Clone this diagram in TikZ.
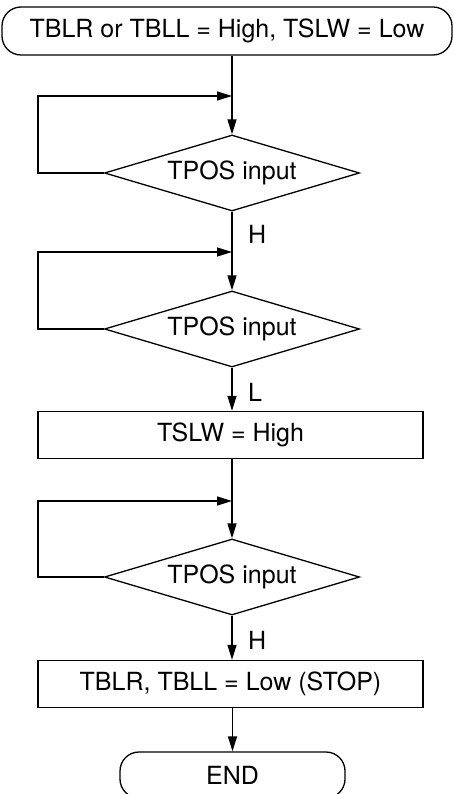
\documentclass[tikz,border=0pt]{standalone}
\usepackage{fontspec}
\setmainfont{TeX Gyre Heros}
\usetikzlibrary{shapes.geometric,arrows.meta}
\begin{document}
\begin{tikzpicture}[x=1pt,y=-1pt,
  every node/.style={font=\fontsize{25}{28}\selectfont, inner sep=0pt},
  term/.style={draw, line width=1.3pt, rounded corners=19pt, minimum height=48pt},
  proc/.style={draw, line width=1.3pt, minimum height=47pt, minimum width=385pt},
  dec/.style={draw, line width=1.3pt, diamond, aspect=3.35, minimum width=255pt, minimum height=76pt, inner sep=0pt},
  flow/.style={line width=1.3pt, -{Triangle[length=15pt,width=9pt]}},
  lbl/.style={anchor=west}]
\useasboundingbox (0,0) rectangle (454,794);
\node[term, minimum width=450pt] (t1) at (227,31) {TBLR or TBLL = High, TSLW = Low};
\node[dec] (d1) at (232,173) {TPOS input};
\node[dec] (d2) at (232,329) {TPOS input};
\node[proc] (r1) at (230.5,435) {TSLW = High};
\node[dec] (d3) at (232,577) {TPOS input};
\node[proc] (r2) at (230.5,684) {TBLR, TBLL = Low (STOP)};
\node[term, minimum width=225pt, minimum height=46pt] (e) at (232.5,775) {END};
\coordinate (j1) at (232,96);
\coordinate (j2) at (232,252);
\coordinate (j3) at (232,501);
\coordinate (l1) at (38,173);
\coordinate (l2) at (38,329);
\coordinate (l3) at (38,577);
% main flow
\draw[flow] (t1.south -| d1.north) -- (d1.north);
\draw[flow] (d1.south) -- (d2.north);
\draw[flow] (d2.south) -- (r1.north -| d2.south);
\draw[flow] (r1.south -| d3.north) -- (d3.north);
\draw[flow] (d3.south) -- (r2.north -| d3.south);
\draw[flow] (r2.south -| e.north) -- (e.north);
% loops
\draw[flow] (d1.west) -- (l1) |- (j1);
\draw[flow] (d2.west) -- (l2) |- (j2);
\draw[flow] (d3.west) -- (l3) |- (j3);
% labels
\node[lbl] at (248,234) {H};
\node[lbl] at (248,392) {L};
\node[lbl] at (248,640) {H};
\end{tikzpicture}
\end{document}
